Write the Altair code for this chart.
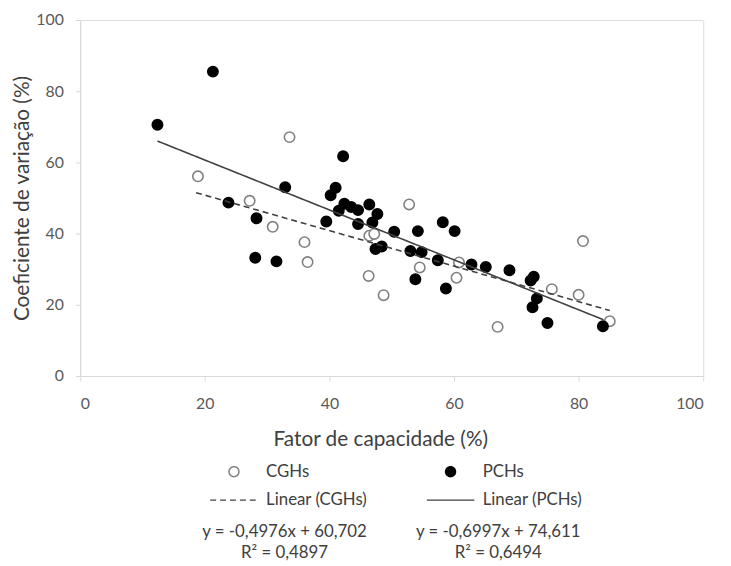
import altair as alt
import pandas as pd

FONT = "Lato"

# --- data ---
cgh_x = [33.6, 18.9, 27.2, 30.9, 36.0, 36.5, 46.3, 48.7, 46.4, 47.2, 52.8, 54.5, 60.4, 60.8, 75.7, 80.0, 80.7, 67.0, 85.0]
cgh_y = [67.1, 56.1, 49.2, 41.9, 37.6, 32.0, 28.1, 22.7, 39.4, 39.9, 48.2, 30.5, 27.6, 31.9, 24.4, 22.8, 37.9, 13.8, 15.4]

pch_x = [12.4, 21.3, 42.2, 32.9, 41.0, 40.2, 23.8, 28.3, 39.5, 42.4, 43.5, 41.5, 44.6, 46.4, 44.6, 47.7, 46.9, 47.4, 48.4,
         50.4, 28.1, 31.5, 54.2, 58.2, 60.1, 53.0, 54.8, 53.8, 57.4, 58.7, 62.8, 65.1, 68.9, 72.8, 72.3, 73.3, 72.6, 75.0, 83.9]
pch_y = [70.6, 85.5, 61.7, 53.0, 52.9, 50.8, 48.7, 44.3, 43.4, 48.4, 47.5, 46.4, 46.6, 48.2, 42.7, 45.5, 43.1, 35.7, 36.4,
         40.5, 33.2, 32.2, 40.7, 43.2, 40.7, 35.1, 34.8, 27.2, 32.5, 24.6, 31.3, 30.6, 29.7, 27.9, 26.8, 21.8, 19.3, 14.9, 14.0]

trend_cgh_x = [18.6, 85.0]
trend_cgh_y = [51.5, 18.4]
trend_pch_x = [12.4, 84.0]
trend_pch_y = [66.0, 15.8]

# legend order (column-major in the 2-column legend)
series_names = ["CGHs", "Linear (CGHs)", "PCHs", "Linear (PCHs)"]
equations = ["y = -0,4976x + 60,702\nR² = 0,4897", "y = -0,6997x + 74,611\nR² = 0,6494"]
eq_x = [32.8, 67.1]
tick_values = [0, 20, 40, 60, 80, 100]

pts = pd.DataFrame({
    "x": cgh_x + pch_x,
    "y": cgh_y + pch_y,
    "series": ["CGHs"] * len(cgh_x) + ["PCHs"] * len(pch_x),
})
lines = pd.DataFrame({
    "x": trend_cgh_x + trend_pch_x,
    "y": trend_cgh_y + trend_pch_y,
    "series": ["Linear (CGHs)"] * 2 + ["Linear (PCHs)"] * 2,
})
eqs = pd.DataFrame({"x": eq_x, "text": equations})

xs = alt.Scale(domain=[0, 100], nice=False)
ys = alt.Scale(domain=[0, 100], nice=False)

LINE_PATH = "M-4.8,0H4.8"
shape_scale = alt.Scale(domain=series_names, range=["circle", LINE_PATH, "circle", LINE_PATH])
fill_scale = alt.Scale(domain=series_names, range=["white", "transparent", "black", "transparent"])
stroke_scale = alt.Scale(domain=series_names, range=["#808080", "#404040", "black", "#404040"])
dash_scale = alt.Scale(domain=series_names, range=[[1, 0], [6, 4], [1, 0], [1, 0]])

legend = alt.Legend(
    title=None, orient="none", legendX=147, legendY=448, columns=2,
    columnPadding=56, rowPadding=11, labelFont=FONT, labelFontSize=17,
    labelColor="#404040", symbolSize=100, symbolStrokeWidth=1.5, labelOffset=24,
)

x_axis = alt.Axis(
    values=tick_values, tickSize=5, labelPadding=15, titlePadding=17, grid=False,
    domainColor="#d9d9d9", tickColor="#d9d9d9", labelColor="#595959", labelFontSize=16,
    titleFontSize=21, titleColor="#404040", titleFontWeight="normal", titleX=303.5,
    labelFont=FONT, titleFont=FONT,
)
y_axis = alt.Axis(
    values=tick_values, tickSize=5, labelPadding=12, titlePadding=3, grid=False,
    domainColor="#d9d9d9", tickColor="#d9d9d9", labelColor="#595959", labelFontSize=16,
    titleFontSize=21, titleColor="#404040", titleFontWeight="normal",
    labelFont=FONT, titleFont=FONT,
)

points = alt.Chart(pts).mark_point(filled=True, size=110, strokeWidth=1.6, opacity=1).encode(
    x=alt.X("x:Q", scale=xs, axis=x_axis, title="Fator de capacidade (%)"),
    y=alt.Y("y:Q", scale=ys, axis=y_axis, title="Coeficiente de variação (%)"),
    shape=alt.Shape("series:N", scale=shape_scale, legend=legend),
    fill=alt.Fill("series:N", scale=fill_scale, legend=legend),
    stroke=alt.Stroke("series:N", scale=stroke_scale, legend=legend),
    order=alt.Order("series:N"),
)

trend = alt.Chart(lines).mark_line(strokeWidth=1.6).encode(
    x=alt.X("x:Q", scale=xs),
    y=alt.Y("y:Q", scale=ys),
    stroke=alt.Stroke("series:N", scale=stroke_scale, legend=legend),
    strokeDash=alt.StrokeDash("series:N", scale=dash_scale, legend=legend),
)

eq_text = alt.Chart(eqs).mark_text(
    align="center", baseline="top", lineBreak="\n", fontSize=17, color="#404040",
    lineHeight=21, font=FONT,
).encode(
    x=alt.X("x:Q", scale=xs),
    y=alt.value(510),
    text="text:N",
)

chart = alt.layer(points, trend, eq_text).properties(
    width=630, height=360,
    padding={"left": 73, "top": 9, "right": 20, "bottom": 190},
    autosize=alt.AutoSizeParams(type="none"),
).configure_view(stroke=None).configure(font=FONT)

chart.save("out.html", embed_options={"renderer": "svg", "actions": False})
